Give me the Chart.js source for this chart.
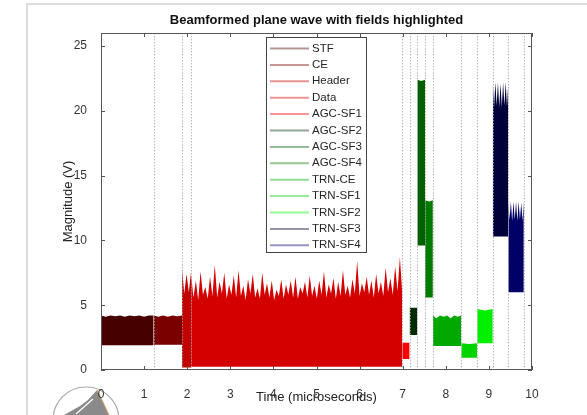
<!DOCTYPE html>
<html><head><meta charset="utf-8">
<script src="https://cdn.jsdelivr.net/npm/chart.js@4.4.1/dist/chart.umd.min.js"></script>
<style>html,body{margin:0;padding:0;background:#fff;}#wrap{width:587px;height:415px;position:relative}</style>
</head><body><div id="wrap"><canvas id="c" width="587" height="415"></canvas></div>
<script>
// ---- data ----
const fieldNames = ['STF','CE','Header','Data','AGC-SF1','AGC-SF2','AGC-SF3','AGC-SF4','TRN-CE','TRN-SF1','TRN-SF2','TRN-SF3','TRN-SF4'];
const fieldStart = [0, 1.22, 1.88, 2.09, 6.99, 7.16, 7.34, 7.52, 7.70, 8.36, 8.73, 9.09, 9.45];
const fieldEnd   = [1.22, 1.88, 2.09, 6.99, 7.16, 7.34, 7.52, 7.70, 8.36, 8.73, 9.09, 9.45, 9.81];
const fieldFloor = [1.9, 1.95, 0.2, 0.25, 0.85, 2.7, 9.6, 5.6, 1.85, 0.95, 2.06, 10.3, 6.0];
const stfPeaks = [4.2, 4.1, 4.2, 4.15, 4.2, 4.1, 4.2, 4.15, 4.2, 4.1, 4.2, 4.2];
const cePeaks = [4.2, 4.1, 4.2, 4.1, 4.2, 4.15, 4.2];
const headerPeaks = [7.8, 5.9, 7.4, 6.0, 7.6];
const dataPeaks = [
  7.4, 5.6, 6.9, 5.4, 7.6, 5.8, 6.4, 5.5, 7.2, 5.7,
  8.1, 5.6, 6.8, 5.9, 7.5, 5.5, 6.6, 5.8, 7.3, 5.6,
  7.7, 5.7, 6.5, 5.4, 7.0, 5.9, 7.4, 5.6, 6.3, 5.5,
  7.5, 5.8, 6.7, 5.6, 6.9, 5.4, 6.2, 5.7, 7.0, 5.5,
  6.6, 5.8, 6.9, 5.6, 7.2, 5.5, 6.4, 5.9, 6.8, 5.6,
  7.3, 5.7, 6.5, 5.5, 6.9, 5.8, 7.6, 5.6, 6.6, 5.9,
  7.1, 5.5, 6.8, 5.7, 7.7, 5.8, 6.5, 5.6, 7.0, 5.9,
  8.4, 5.7, 6.7, 6.0, 7.2, 5.8, 6.9, 5.6, 7.4, 5.9,
  6.8, 5.7, 7.9, 6.0, 7.1, 5.8, 8.0, 6.1, 8.7, 5.9];
const agc1Peaks = [2.1, 2.1];
const agc2Peaks = [4.8, 4.8];
const agc3Peaks = [22.4, 22.3, 22.4];
const agc4Peaks = [13.1, 13.0, 13.1];
const trnCePeaks = [4.2, 4.0, 4.2, 4.1, 4.2, 4.0, 4.2, 4.1, 4.2];
const trn1Peaks = [2.06, 2.0, 2.06];
const trn2Peaks = [4.7, 4.6, 4.7];
const trn3Peaks = [22.2, 20.3, 22.2, 20.4, 22.2, 20.3, 22.1, 20.3, 22.2, 20.4, 22.2, 20.3, 22.2];
const trn4Peaks = [13.0, 11.6, 13.0, 11.5, 13.0, 11.6, 13.0, 11.5, 13.0, 11.6, 12.9, 11.5, 13.0];
const fieldPeaks = [stfPeaks, cePeaks, headerPeaks, dataPeaks, agc1Peaks, agc2Peaks, agc3Peaks, agc4Peaks, trnCePeaks, trn1Peaks, trn2Peaks, trn3Peaks, trn4Peaks];
const xTicks = [0,1,2,3,4,5,6,7,8,9,10];
const yTicks = [0,5,10,15,20,25];

// ---- styles ----
const fieldColors = ['#470000','#7a0000','#c20000','#d40000','#ff0000','#002a00','#006000','#007a00','#00a800','#00d400','#00f000','#00003a','#000066'];
function fade(hex, a){const r=parseInt(hex.slice(1,3),16),g=parseInt(hex.slice(3,5),16),b=parseInt(hex.slice(5,7),16);
  const f=v=>Math.round(255*(1-a)+v*a);return `rgb(${f(r)},${f(g)},${f(b)})`;}

const datasets = fieldNames.map((name,i)=>{
  const pk = fieldPeaks[i], n = pk.length, s = fieldStart[i], e = fieldEnd[i];
  return {
    label: name,
    data: pk.map((v,k)=>({x: s + (e-s)*k/(n-1), y: v})),
    borderColor: fieldColors[i],
    backgroundColor: fieldColors[i],
    borderWidth: 0,
    pointRadius: 0,
    tension: 0,
    fill: {target: {value: fieldFloor[i]}}
  };
});

const FONT = "'Liberation Sans', Arial, Helvetica, sans-serif";

const decor = {
  id: 'decor',
  beforeDraw(chart){
    const {ctx} = chart;
    ctx.save();
    // outer frame
    ctx.strokeStyle = '#dcdcdc'; ctx.lineWidth = 2;
    ctx.beginPath(); ctx.moveTo(27, 415); ctx.lineTo(27, 4); ctx.lineTo(587, 4); ctx.stroke();
    // logo
    ctx.beginPath(); ctx.arc(86, 420, 33, 0, Math.PI*2);
    ctx.fillStyle = '#fff'; ctx.fill();
    ctx.strokeStyle = '#a8a8a8'; ctx.lineWidth = 1.2; ctx.stroke();
    ctx.beginPath();
    ctx.moveTo(64,415); ctx.lineTo(80,406); ctx.lineTo(88,400); ctx.lineTo(97,390); ctx.lineTo(103,402); ctx.lineTo(109,415); ctx.closePath();
    ctx.fillStyle = '#8a8a8a'; ctx.fill();
    ctx.strokeStyle = '#e0a870'; ctx.lineWidth = 1;
    ctx.beginPath(); ctx.moveTo(97,390); ctx.lineTo(103,402); ctx.lineTo(109,415); ctx.stroke();
    ctx.strokeStyle = '#fff'; ctx.lineWidth = 1.2;
    ctx.beginPath(); ctx.moveTo(76,414); ctx.lineTo(93,399); ctx.stroke();
    ctx.restore();
  },
  afterDatasetsDraw(chart){
    const {ctx, chartArea: ca, scales:{x,y}} = chart;
    ctx.save();
    // field boundary dotted lines
    ctx.strokeStyle = 'rgba(160,160,160,0.75)';
    ctx.lineWidth = 1;
    ctx.setLineDash([1.5,1.5]);
    fieldEnd.forEach(v=>{
      const px = Math.round(x.getPixelForValue(v))+0.5;
      ctx.beginPath(); ctx.moveTo(px, ca.top); ctx.lineTo(px, ca.bottom); ctx.stroke();
    });
    ctx.setLineDash([]);
    // box
    ctx.strokeStyle = '#555';
    ctx.lineWidth = 1;
    ctx.strokeRect(ca.left+0.5, ca.top+0.5, ca.right-ca.left-1, ca.bottom-ca.top-1);
    // inward ticks
    ctx.beginPath();
    xTicks.forEach(v=>{const px=Math.round(x.getPixelForValue(v))+0.5;
      ctx.moveTo(px, ca.bottom); ctx.lineTo(px, ca.bottom-4);
      ctx.moveTo(px, ca.top); ctx.lineTo(px, ca.top+4);});
    yTicks.forEach(v=>{const py=Math.round(y.getPixelForValue(v))+0.5;
      ctx.moveTo(ca.left, py); ctx.lineTo(ca.left+4, py);
      ctx.moveTo(ca.right, py); ctx.lineTo(ca.right-4, py);});
    ctx.stroke();
    ctx.restore();
  },
  afterDraw(chart){
    const {ctx, chartArea: ca} = chart;
    ctx.save();
    // title
    ctx.fillStyle = '#111';
    ctx.font = `bold 13px ${FONT}`;
    ctx.textAlign = 'center'; ctx.textBaseline = 'alphabetic';
    ctx.fillText('Beamformed plane wave with fields highlighted', (ca.left+ca.right)/2, 24);
    // legend
    const lx = 266.5, ly = 37.5, lw = 100, lh = 215;
    ctx.fillStyle = '#fff'; ctx.fillRect(lx, ly, lw, lh);
    ctx.strokeStyle = '#444'; ctx.lineWidth = 1; ctx.strokeRect(lx, ly, lw, lh);
    ctx.font = `11.5px ${FONT}`; ctx.textAlign = 'left'; ctx.textBaseline = 'middle';
    chart.data.datasets.forEach((ds,i)=>{
      const yy = 48.5 + i*16.4;
      ctx.strokeStyle = fade(fieldColors[i], 0.42); ctx.lineWidth = 2;
      ctx.beginPath(); ctx.moveTo(270, yy); ctx.lineTo(309, yy); ctx.stroke();
      ctx.fillStyle = '#262626'; ctx.fillText(ds.label, 312, yy);
    });
    ctx.restore();
  }
};

new Chart(document.getElementById('c'), {
  type: 'line',
  data: { datasets },
  options: {
    responsive: false, animation: false, devicePixelRatio: 1,
    layout: { padding: { top: 33, right: 55, left: 0, bottom: 0 } },
    plugins: { legend: { display: false }, title: { display: false }, tooltip: { enabled: false } },
    scales: {
      x: {
        type: 'linear', min: 0, max: 10,
        afterBuildTicks: s => { s.ticks = xTicks.map(v=>({value:v})); },
        afterFit: s => { s.height = 45; },
        grid: { display: false }, border: { display: false },
        ticks: { padding: 9, color: '#333', font: { family: FONT, size: 12 } },
        title: { display: true, text: 'Time (microseconds)', color: '#222', font: { family: FONT, size: 13 }, padding: { top: 0, bottom: 10 } }
      },
      y: {
        type: 'linear', min: 0, max: 26,
        afterBuildTicks: s => { s.ticks = yTicks.map(v=>({value:v})); },
        afterFit: s => { s.width = 101; },
        grid: { display: false }, border: { display: false },
        ticks: { padding: 6, color: '#333', font: { family: FONT, size: 12 } },
        title: { display: true, text: 'Magnitude (V)', color: '#222', font: { family: FONT, size: 13 }, padding: { top: 61, bottom: 0 } }
      }
    }
  },
  plugins: [decor]
});
</script></body></html>
